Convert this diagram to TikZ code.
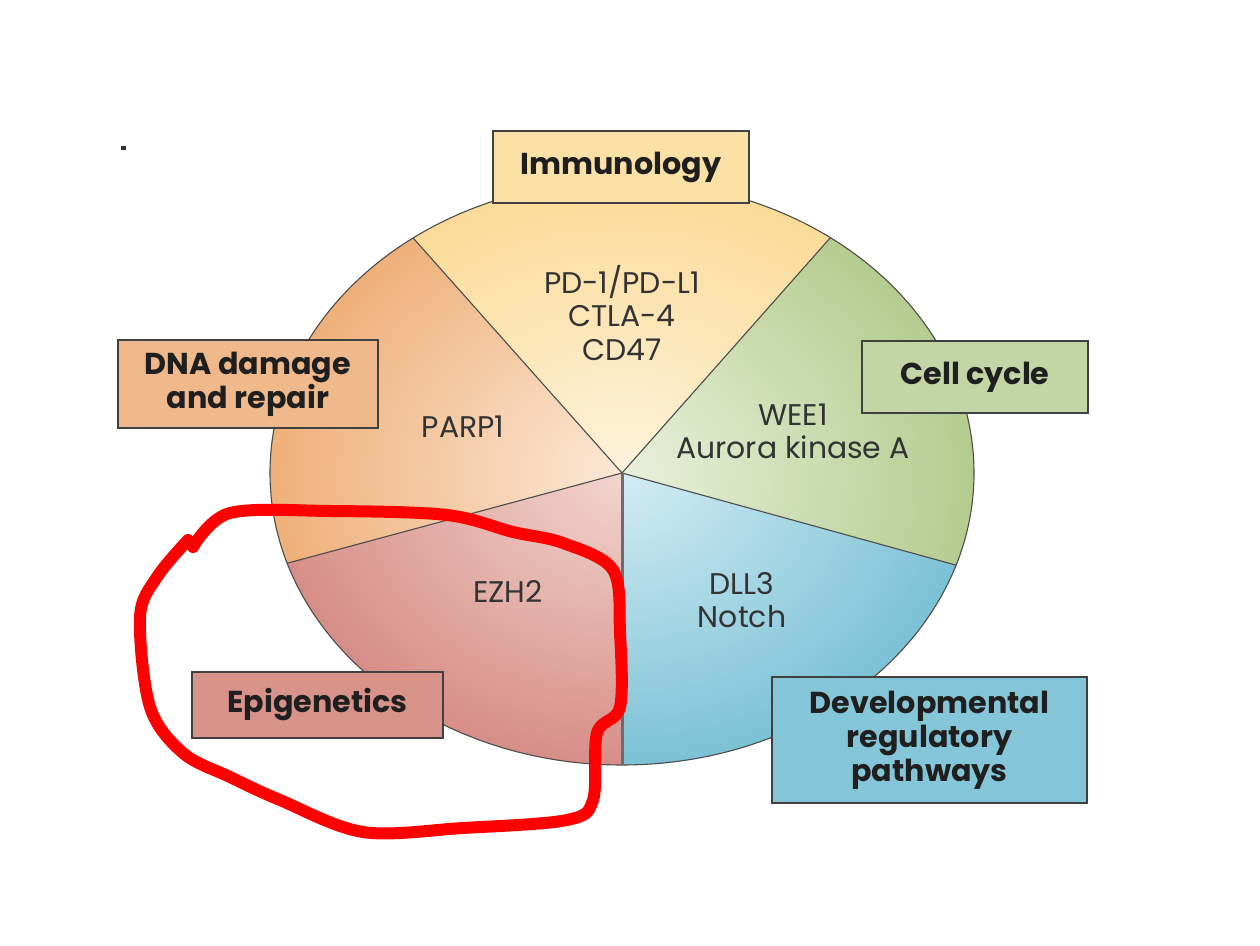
\documentclass[tikz,border=0pt]{standalone}
\usepackage{fontspec}
\setmainfont{Poppins}
\usetikzlibrary{positioning,calc}
\definecolor{immBox}{HTML}{FCE1A6}
\definecolor{dnaBox}{HTML}{F0B98B}
\definecolor{cycBox}{HTML}{C3D5A5}
\definecolor{epiBox}{HTML}{D7928A}
\definecolor{devBox}{HTML}{84C6D8}
\definecolor{immIn}{HTML}{FDF3DC}\definecolor{immOut}{HTML}{FBDB98}
\definecolor{dnaIn}{HTML}{FBE8D6}\definecolor{dnaOut}{HTML}{EFB07A}
\definecolor{cycIn}{HTML}{EAF0DC}\definecolor{cycOut}{HTML}{B4CC8F}
\definecolor{epiIn}{HTML}{F1D5CE}\definecolor{epiOut}{HTML}{D68E87}
\definecolor{devIn}{HTML}{D3ECF4}\definecolor{devOut}{HTML}{7BC1D5}
\definecolor{inkgray}{HTML}{333333}
\tikzset{
  topic/.style={draw=black!75,line width=0.4mm,fill=#1,font=\fontsize{17.2}{19.3}\selectfont\bfseries,text=black!88,align=center,inner sep=0pt},
  target/.style={font=\fontsize{17}{18.8}\selectfont,text=inkgray,align=center,inner sep=0pt},
  rim/.style={draw=black!70,line width=0.22mm},
  redloop/.style={draw=red,line width=2.4mm,line cap=round,line join=round},
}
\begin{document}
\begin{tikzpicture}[x=0.2mm,y=0.2mm]
\useasboundingbox (0,0) rectangle (1260,945);
\coordinate (hub) at (622,472);
% shaded pie sectors
\foreach \from/\to/\lite/\deep in {53.7/126.4/immIn/immOut,126.4/198/dnaIn/dnaOut,198/270/epiIn/epiOut,270/341.6/devIn/devOut,-18.4/53.7/cycIn/cycOut}{
  \begin{scope}
    \clip (hub) -- ($(hub)+(\from:352 and 292)$) arc[start angle=\from,end angle=\to,x radius=352,y radius=292] -- cycle;
    \shade[inner color=\lite,outer color=\deep] (hub) ellipse[x radius=352,y radius=292];
  \end{scope}
}
\foreach \a in {53.7,126.4,198,341.6}{\draw[rim] (hub) -- ($(hub)+(\a:352 and 292)$);}
\draw[rim] (hub) ellipse[x radius=352,y radius=292];
\draw[gray!85!black,line width=0.6mm] (hub) -- ($(hub)+(270:352 and 292)$);
% topic boxes
\node[topic=immBox,minimum width=51.2mm,minimum height=14.4mm] (immuno) at (621,778) {Immunology};
\node[topic=dnaBox,minimum width=52mm,minimum height=17.6mm] (dna) at (248,561) {DNA damage\\and repair};
\node[topic=cycBox,minimum width=45.2mm,minimum height=14.4mm] (cycle) at (975,568) {Cell cycle};
\node[topic=epiBox,minimum width=50.2mm,minimum height=13.2mm] (epi) at (317.5,240) {Epigenetics};
\node[topic=devBox,minimum width=63mm,minimum height=25.2mm] (devel) at (929.5,205) {Developmental\\regulatory\\pathways};
% targets
\node[target] (pd) at (622,632) {PD-1/PD-L1\\CTLA-4\\CD47};
\node[target] (parp) at (463,518) {PARP1};
\node[target] (wee) at (793,514) {WEE1\\Aurora kinase A};
\node[target] (ezh) at (508,353) {EZH2};
\node[target] (dll) at (742,345) {DLL3\\Notch};
\fill[black!80] (121,795) rectangle (126,799);
% hand-drawn loop
\draw[redloop] plot[smooth,tension=0.55] coordinates {(193,398) (230,432) (330,434) (447,430) (513,413) (563,402) (613,375) (620,312) (620,238) (597,212) (593,145) (567,125) (463,117) (363,113) (280,145) (230,168) (183,192) (150,238) (140,328) (157,368) (188,405)};
\end{tikzpicture}
\end{document}
